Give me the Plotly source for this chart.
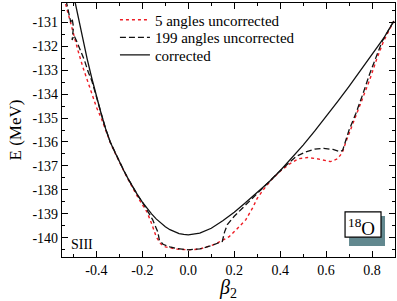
import plotly.graph_objects as go

# ---- data ----
x_corr = [-0.50, -0.48, -0.46, -0.44, -0.42, -0.40, -0.38, -0.36, -0.34, -0.32, -0.30, -0.28, -0.26,
          -0.24, -0.22, -0.20, -0.18, -0.16, -0.14, -0.12, -0.10, -0.08, -0.06, -0.04, -0.02, 0.00,
          0.05, 0.10, 0.15, 0.20, 0.25, 0.30, 0.35, 0.40, 0.45, 0.50, 0.55, 0.60, 0.65, 0.70, 0.75,
          0.80, 0.85, 0.895]
e_corr = [-129.85, -130.8, -131.7, -132.55, -133.35, -134.1, -134.8, -135.45, -136.0, -136.42, -136.85,
          -137.21, -137.57, -137.92, -138.23, -138.51, -138.77, -139.0, -139.21, -139.39, -139.535,
          -139.66, -139.75, -139.82, -139.86, -139.875,
          -139.805, -139.6, -139.29, -138.93, -138.53, -138.12, -137.68, -137.2, -136.68, -136.13,
          -135.55, -134.95, -134.32, -133.68, -133.02, -132.35, -131.68, -130.95]

x_199 = [-0.532, -0.522, -0.512, -0.506, -0.500, -0.506, -0.498, -0.488, -0.470, -0.452, -0.435, -0.42,
         -0.40, -0.38, -0.36, -0.34, -0.32, -0.30, -0.28, -0.26, -0.24, -0.22, -0.20, -0.18, -0.17,
         -0.155, -0.14, -0.133, -0.126, -0.11, -0.08, -0.05, 0.00, 0.05, 0.10, 0.135, 0.148, 0.158,
         0.17, 0.20, 0.25, 0.30, 0.35, 0.40, 0.44, 0.47, 0.51, 0.55, 0.59, 0.63, 0.66, 0.672, 0.70,
         0.73, 0.76, 0.79, 0.82, 0.845, 0.895]
e_199 = [-130.1, -130.6, -131.0, -130.85, -131.2, -131.75, -131.55, -131.75, -132.15, -132.6, -133.1,
         -133.45, -134.12, -134.8, -135.45, -136.0, -136.42, -136.85, -137.21, -137.57, -137.92,
         -138.23, -138.51, -138.8, -139.0, -139.25, -139.55, -139.75, -140.1, -140.27, -140.38,
         -140.45, -140.5, -140.46, -140.33, -140.22, -140.15, -139.75, -139.45, -139.1, -138.62,
         -138.15, -137.7, -137.2, -136.85, -136.6, -136.42, -136.3, -136.27, -136.31, -136.4,
         -136.35, -135.5, -134.8, -134.0, -133.15, -132.4, -131.78, -130.95]

x_5 = [-0.541, -0.52, -0.50, -0.48, -0.46, -0.44, -0.42, -0.40, -0.38, -0.36, -0.34, -0.32, -0.30,
       -0.28, -0.26, -0.24, -0.22, -0.20, -0.18, -0.16, -0.15, -0.14, -0.12, -0.10, -0.05, 0.00,
       0.05, 0.106, 0.14, 0.178, 0.21, 0.25, 0.28, 0.30, 0.33, 0.36, 0.40, 0.44, 0.48, 0.52, 0.56,
       0.60, 0.62, 0.65, 0.67, 0.69, 0.70, 0.73, 0.76, 0.79, 0.82, 0.85, 0.895]
e_5 = [-130.0, -130.8, -131.5, -132.2, -132.85, -133.45, -134.05, -134.55, -134.98, -135.5, -136.02,
       -136.44, -136.87, -137.23, -137.6, -137.97, -138.3, -138.62, -138.92, -139.4, -139.7, -139.95,
       -140.25, -140.38, -140.47, -140.5, -140.47, -140.3, -140.15, -139.95, -139.65, -139.25,
       -138.75, -138.35, -137.95, -137.6, -137.22, -136.92, -136.7, -136.65, -136.7, -136.8,
       -136.82, -136.7, -136.45, -135.9, -135.65, -134.9, -134.15, -133.4, -132.55, -131.8, -130.95]

x_tickvals = [-0.4, -0.2, 0.0, 0.2, 0.4, 0.6, 0.8]
x_ticktext = ["-0.4", "-0.2", "0.0", "0.2", "0.4", "0.6", "0.8"]
y_tickvals = [-131, -132, -133, -134, -135, -136, -137, -138, -139, -140]
y_ticktext = ["-131", "-132", "-133", "-134", "-135", "-136", "-137", "-138", "-139", "-140"]

series_names = ["5 angles uncorrected", "199 angles uncorrected", "corrected"]

FONT = "Liberation Serif"

fig = go.Figure()
fig.add_trace(go.Scatter(x=x_5, y=e_5, mode="lines", name=series_names[0], legend="legend",
                         line=dict(color="#ee1c24", width=1.4, dash="dot")))
fig.add_trace(go.Scatter(x=x_199, y=e_199, mode="lines", name=series_names[1], legend="legend2",
                         line=dict(color="#111111", width=1.3, dash="6px,3px")))
fig.add_trace(go.Scatter(x=x_corr, y=e_corr, mode="lines", name=series_names[2], legend="legend3",
                         line=dict(color="#111111", width=1.3)))

axis_common = dict(
    showgrid=False, zeroline=False, showline=True, linecolor="black", linewidth=1.2,
    ticks="inside", mirror="allticks", tickcolor="black", ticklen=6, tickwidth=1,
    tickfont=dict(family=FONT, size=14, color="black"),
)

fig.update_xaxes(range=[-0.55, 0.9], tickmode="array", tickvals=x_tickvals, ticktext=x_ticktext,
                 minor=dict(ticks="inside", dtick=0.1, tick0=0, ticklen=3, tickcolor="black"),
                 title=dict(text="<i>β</i><sub>2</sub>", font=dict(family=FONT, size=20, color="black"),
                            standoff=0),
                 **axis_common)
fig.update_yaxes(range=[-140.8, -130.2], tickmode="array", tickvals=y_tickvals, ticktext=y_ticktext,
                 minor=dict(ticks="inside", dtick=0.5, tick0=0, ticklen=3, tickcolor="black"),
                 title=dict(text="E (MeV)", font=dict(family=FONT, size=17, color="black"),
                            standoff=6),
                 **axis_common)

# 18O label box with shadow
fig.add_shape(type="rect", xref="paper", yref="paper", x0=0.862, x1=0.970, y0=0.043, y1=0.161,
              fillcolor="#62888f", line=dict(width=0), layer="above")
fig.add_shape(type="rect", xref="paper", yref="paper", x0=0.850, x1=0.958, y0=0.078, y1=0.178,
              fillcolor="white", line=dict(color="black", width=1.2), layer="above")
fig.add_annotation(xref="paper", yref="paper", x=0.904, y=0.128, xshift=14, yshift=-17,
                   text="<sup>18</sup>O",
                   showarrow=False, font=dict(family=FONT, size=19, color="black"))
fig.add_annotation(xref="paper", yref="paper", x=0.021, y=0.05, xanchor="left", yanchor="middle",
                   text="SIII",
                   showarrow=False, font=dict(family=FONT, size=14, color="black"))

leg_common = dict(x=0.159, xanchor="left", yanchor="middle", bgcolor="rgba(0,0,0,0)",
                  font=dict(family=FONT, size=15, color="black"), itemwidth=30)

fig.update_layout(
    width=397, height=301,
    margin=dict(l=62, r=2, t=3, b=44),
    paper_bgcolor="white", plot_bgcolor="white",
    showlegend=True,
    legend=dict(y=0.933, **leg_common),
    legend2=dict(y=0.864, **leg_common),
    legend3=dict(y=0.795, **leg_common),
)

fig.write_html("out.html", config={"displayModeBar": False},
               post_script="document.body.style.margin='0';")
